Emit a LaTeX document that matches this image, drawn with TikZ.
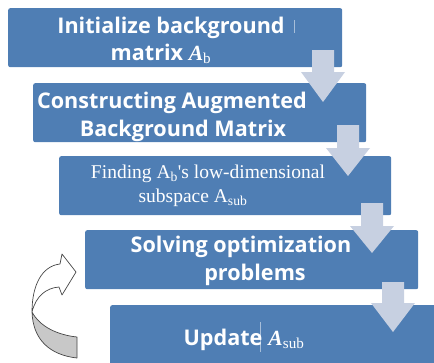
\documentclass[tikz,border=0pt]{standalone}
\usepackage{fontspec}
\setmainfont{Liberation Serif}
\newfontfamily\boxfont{Open Sans}
\definecolor{boxblue}{RGB}{79,126,180}
\definecolor{arrowfill}{RGB}{199,208,225}
\definecolor{foldgray}{RGB}{200,200,200}
\definecolor{outlinegray}{RGB}{70,70,70}

\tikzset{
  stepbox/.style={fill=boxblue, draw=none, rounded corners=2pt, inner sep=0pt, anchor=north west},
  boxtext/.style={text=white, font=\boxfont\fontsize{21.6}{25}\selectfont\bfseries, anchor=base, inner sep=0pt},
  serifline/.style={text=white, font=\fontsize{19.5}{22}\selectfont, anchor=base, inner sep=0pt},
  flowarrow/.style={fill=arrowfill, draw=none},
  cursorbar/.style={draw=white, opacity=0.5, line width=0.6pt},
}

% downward block arrow: centre x, top of shaft, base of head, tip
\newcommand\blockarrow[4]{%
  \fill[flowarrow] ({#1-11},#2) -- ({#1+11},#2) -- ({#1+11},#3) -- ({#1+22},#3)
    -- (#1,#4) -- ({#1-22},#3) -- ({#1-11},#3) -- cycle;}
\newcommand\serifA{\textit{\fontspec{Liberation Serif}A}}
\newcommand\smallsub[1]{\textsubscript{\fontspec{Liberation Serif}\mdseries #1}}

\begin{document}
\begin{tikzpicture}[x=1pt, y=-1pt]
\useasboundingbox (0,0) rectangle (434,362);
\clip (0,0) rectangle (434,362);

% process steps
\node[stepbox, minimum width=334pt, minimum height=59pt] (b1) at (8,8) {};
\node[stepbox, minimum width=333pt, minimum height=59pt] (b2) at (33,83) {};
\node[stepbox, minimum width=332pt, minimum height=59pt] (b3) at (59,156) {};
\node[stepbox, minimum width=333pt, minimum height=59pt] (b4) at (85,230) {};
\node[stepbox, minimum width=340pt, minimum height=70pt] (b5) at (110,305) {};

% labels
\node[boxtext] (t1a) at (171,33) {Initialize background};
\node[boxtext] (t1b) at (161,60) {matrix \serifA\smallsub{b}};
\node[boxtext] (t2a) at (172,108) {Constructing Augmented};
\node[boxtext] (t2b) at (183,136) {Background Matrix};
\node[serifline] (t3a) at (208,178) {Finding A\textsubscript{b}\textquotesingle s low-dimensional};
\node[serifline] (t3b) at (193,202) {subspace A\textsubscript{sub}};
\node[boxtext] (t4a) at (241,252) {Solving optimization};
\node[boxtext] (t4b) at (255,280) {problems};
\node[boxtext] (t5) at (244,345) {Update\hspace{6pt}\serifA\smallsub{sub}};

% text cursor marks
\draw[cursorbar] (294,20) -- (294,33);
\draw[cursorbar] (260,322) -- (260,352);

% flow arrows between steps
\blockarrow{323}{50}{72}{102}
\blockarrow{348}{125}{148}{176}
\blockarrow{372}{203}{226}{253}
\blockarrow{393}{282}{303}{332}

% loop-back arrow: shaded underside, then outline
\fill[foldgray] (77,337) .. controls (58,335) and (40,327) .. (32,312)
  .. controls (33,340) and (50,355) .. (77,358) -- cycle;
\draw[outlinegray, line width=0.7pt, line join=round]
  (77,337) .. controls (58,335) and (40,327) .. (32,312)
  .. controls (36,296) and (46,288) .. (59,287)
  -- (62,295) -- (76,272) -- (62,254) -- (60,264)
  .. controls (42,266) and (32,285) .. (32,312)
  .. controls (33,340) and (50,355) .. (77,358) -- cycle;
\end{tikzpicture}
\end{document}
